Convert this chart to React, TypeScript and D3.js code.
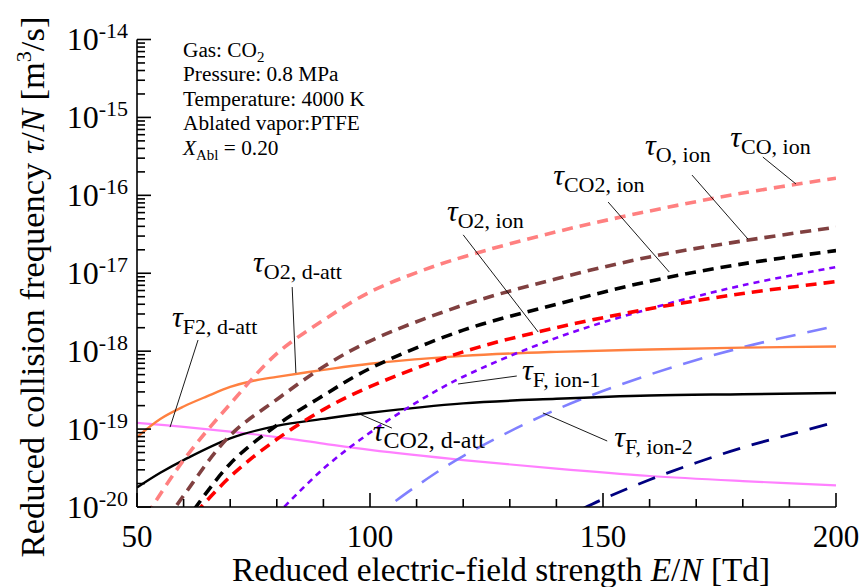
import React from 'react';
import * as d3 from 'd3';

const W = 863, H = 587;
const PLOT = { left: 137, right: 836, top: 39.5, bottom: 507 };
const FONT = "'Liberation Serif', 'Times New Roman', serif";

const xDomain = [50, 200];
const yDomain = [1e-20, 1e-14];
const xTicksMajor = [50, 100, 150, 200];
const xTicksMinor = [60, 70, 80, 90, 110, 120, 130, 140, 160, 170, 180, 190];
const yDecadeExps = [-14, -15, -16, -17, -18, -19, -20];

// τ_O2, d-att (orange solid)
const E_O2_datt = [50, 55, 60, 65, 70, 75, 80, 90, 100, 120, 140, 160, 180, 200];
const V_O2_datt = [7.9e-20, 1.35e-19, 1.95e-19, 2.63e-19, 3.47e-19, 4.17e-19, 4.68e-19, 5.75e-19, 6.9e-19, 8.7e-19, 9.8e-19, 1.05e-18, 1.11e-18, 1.15e-18];
// τ_CO2, d-att (black solid)
const E_CO2_datt = [50, 55, 60, 70, 80, 90, 100, 120, 140, 160, 180, 200];
const V_CO2_datt = [1.78e-20, 2.75e-20, 4.0e-20, 7.6e-20, 1.1e-19, 1.35e-19, 1.62e-19, 2.14e-19, 2.45e-19, 2.7e-19, 2.8e-19, 2.9e-19];
// τ_F2, d-att (pink solid)
const E_F2_datt = [50, 60, 70, 80, 90, 100, 120, 140, 160, 180, 200];
const V_F2_datt = [1.2e-19, 1.07e-19, 9.3e-20, 7.9e-20, 6.5e-20, 5.4e-20, 4.0e-20, 3.1e-20, 2.5e-20, 2.15e-20, 1.9e-20];
// τ_CO, ion (light red dashed)
const E_CO_ion = [50, 60, 70, 80, 90, 100, 110, 120, 140, 160, 180, 200];
const V_CO_ion = [5e-21, 4.0e-20, 2.1e-19, 9.3e-19, 2.5e-18, 5.75e-18, 1.02e-17, 1.62e-17, 3.4e-17, 6.3e-17, 1.07e-16, 1.66e-16];
// τ_O, ion (brown dashed)
const E_O_ion = [50, 60, 70, 80, 90, 100, 120, 140, 160, 180, 200];
const V_O_ion = [1.8e-21, 1.4e-20, 8.3e-20, 2.4e-19, 6.3e-19, 1.35e-18, 3.9e-18, 8.5e-18, 1.62e-17, 2.6e-17, 3.9e-17];
// τ_CO2, ion (black dashed)
const E_CO2_ion = [60, 70, 80, 90, 100, 120, 140, 160, 180, 200];
const V_CO2_ion = [6e-21, 3.6e-20, 1.12e-19, 2.7e-19, 6.0e-19, 1.86e-18, 4.0e-18, 7.9e-18, 1.32e-17, 1.95e-17];
// τ_O2, ion (red dashed)
const E_O2_ion = [60, 70, 80, 90, 100, 120, 140, 160, 180, 200];
const V_O2_ion = [5.6e-21, 2.45e-20, 7.4e-20, 1.78e-19, 3.5e-19, 9.8e-19, 2.0e-18, 3.5e-18, 5.5e-18, 7.8e-18];
// τ_F, ion-1 (purple short dash)
const E_F_ion1 = [80, 90, 100, 110, 120, 140, 160, 180, 200];
const V_F_ion1 = [8e-21, 3.1e-20, 9.0e-20, 2.2e-19, 4.7e-19, 1.48e-18, 3.5e-18, 7.0e-18, 1.2e-17];
// τ_F, ion-2 (light blue long dash)
const E_F_ion2 = [100, 110, 120, 140, 160, 180, 200];
const V_F_ion2 = [6.8e-21, 1.86e-20, 4.5e-20, 1.78e-19, 5.0e-19, 1.12e-18, 2.1e-18];
// navy long dash (unlabelled)
const E_navy = [140, 150, 160, 170, 180, 190, 200];
const V_navy = [6.5e-21, 1.26e-20, 2.24e-20, 3.7e-20, 5.8e-20, 8.5e-20, 1.23e-19];

const series = [
  { E: E_F2_datt, V: V_F2_datt, color: '#ff80ff', width: 2.2, dash: null },
  { E: E_navy, V: V_navy, color: '#000080', width: 2.8, dash: '18,12' },
  { E: E_F_ion2, V: V_F_ion2, color: '#8080ff', width: 2.6, dash: '20,12' },
  { E: E_CO2_datt, V: V_CO2_datt, color: '#000000', width: 2.4, dash: null },
  { E: E_O2_datt, V: V_O2_datt, color: '#ff8040', width: 2.4, dash: null },
  { E: E_F_ion1, V: V_F_ion1, color: '#8000ff', width: 2.6, dash: '6,5' },
  { E: E_O2_ion, V: V_O2_ion, color: '#ff0000', width: 3.6, dash: '11,7' },
  { E: E_CO2_ion, V: V_CO2_ion, color: '#000000', width: 3.6, dash: '11,7' },
  { E: E_O_ion, V: V_O_ion, color: '#804040', width: 3.6, dash: '11,7' },
  { E: E_CO_ion, V: V_CO_ion, color: '#ff8080', width: 3.6, dash: '11,7' },
];

// label anchors in data units: label position, leader from -> to
const labelSubs = ['CO, ion', 'O, ion', 'CO2, ion', 'O2, ion', 'O2, d-att', 'F2, d-att', 'F, ion-1', 'CO2, d-att', 'F, ion-2'];
const labelE = [177.3, 159.0, 139.3, 116.5, 74.9, 57.5, 132.6, 100.6, 152.4];
const labelV = [4.2e-16, 3.3e-16, 1.36e-16, 4.68e-17, 1.04e-17, 2.04e-18, 4.27e-19, 7.0e-20, 5.9e-20];
const leadE1 = [184.3, 169.1, 151.1, 120.0, 83.3, 63.1, 131.5, 97.2, 137.1];
const leadV1 = [3.1e-16, 1.82e-16, 8.2e-17, 3.11e-17, 6.65e-18, 1.39e-18, 4.8e-19, 1.61e-19, 1.61e-19];
const leadE2 = [191.4, 181.1, 164.2, 136.1, 84.1, 57.1, 118.9, 104.7, 150.9];
const leadV2 = [1.4e-16, 2.75e-17, 1.04e-17, 1.76e-18, 5.25e-19, 1.06e-19, 3.79e-19, 1.03e-19, 7.03e-20];
const labelSubSize = [22, 22, 22, 22, 22, 22, 22, 24, 22];

const infoLines = ['Pressure: 0.8 MPa', 'Temperature: 4000 K', 'Ablated vapor:PTFE'];

export default function App() {
  const x = d3.scaleLinear().domain(xDomain).range([PLOT.left, PLOT.right]);
  const y = d3.scaleLog().domain(yDomain).range([PLOT.bottom, PLOT.top]);
  const line = d3.line<[number, number]>()
    .x(d => x(d[0]))
    .y(d => y(d[1]))
    .curve(d3.curveCatmullRom.alpha(0.5));

  const minorY: number[] = [];
  for (let e = -20; e < -14; e++) for (let k = 2; k <= 9; k++) minorY.push(k * Math.pow(10, e));

  return (
    <svg width={W} height={H} style={{ position: 'absolute', left: 0, top: 0, background: '#fff' }}
      fontFamily={FONT}>
      <defs>
        <clipPath id="plotclip">
          <rect x={PLOT.left} y={PLOT.top} width={PLOT.right - PLOT.left} height={PLOT.bottom - PLOT.top} />
        </clipPath>
      </defs>
      <rect x={0} y={0} width={W} height={H} fill="#fff" />

      {/* curves */}
      <g clipPath="url(#plotclip)">
        {series.map((s, i) => (
          <path key={i}
            d={line(s.E.map((e, j) => [e, s.V[j]] as [number, number])) || ''}
            fill="none" stroke={s.color} strokeWidth={s.width}
            strokeDasharray={s.dash || undefined} />
        ))}
      </g>

      {/* axes */}
      <g stroke="#000" strokeWidth={1.6}>
        <line x1={PLOT.left} x2={PLOT.left} y1={PLOT.top} y2={PLOT.bottom} />
        <line x1={PLOT.left} x2={PLOT.right} y1={PLOT.bottom} y2={PLOT.bottom} />
        {xTicksMajor.map(t => (
          <line key={'xm' + t} x1={x(t)} x2={x(t)} y1={PLOT.bottom} y2={PLOT.bottom - 14} />
        ))}
        {xTicksMinor.map(t => (
          <line key={'xn' + t} x1={x(t)} x2={x(t)} y1={PLOT.bottom} y2={PLOT.bottom - 8} />
        ))}
        {yDecadeExps.map(e => (
          <line key={'ym' + e} x1={PLOT.left} x2={PLOT.left + 14} y1={y(Math.pow(10, e))} y2={y(Math.pow(10, e))} />
        ))}
        {minorY.map((v, i) => (
          <line key={'yn' + i} x1={PLOT.left} x2={PLOT.left + 8} y1={y(v)} y2={y(v)} />
        ))}
      </g>

      {/* x tick labels */}
      {xTicksMajor.map(t => (
        <text key={'xl' + t} x={x(t)} y={PLOT.bottom + 40} textAnchor="middle" fontSize={31}>{t}</text>
      ))}
      {/* y tick labels */}
      {yDecadeExps.map(e => (
        <text key={'yl' + e} x={PLOT.left - 9} y={y(Math.pow(10, e)) + 10.5} textAnchor="end" fontSize={32}>
          10<tspan fontSize={22} dy={-12}>{String(e)}</tspan>
        </text>
      ))}

      {/* axis titles */}
      <text x={501} y={581} textAnchor="middle" fontSize={33.3}>
        Reduced electric-field strength <tspan fontStyle="italic">E</tspan>/<tspan fontStyle="italic">N</tspan> [Td]
      </text>
      <text transform={`translate(44,${287}) rotate(-90)`} textAnchor="middle" fontSize={34.5}>
        Reduced collision frequency <tspan fontStyle="italic">τ</tspan>/<tspan fontStyle="italic">N</tspan> [m<tspan fontSize={22} dy={-13}>3</tspan><tspan dy={13}>/s]</tspan>
      </text>

      {/* info block */}
      <g fontSize={21.3}>
        <text x={183} y={57}>Gas: CO<tspan fontSize={15} dy={5}>2</tspan></text>
        {infoLines.map((s, i) => (
          <text key={s} x={183} y={81 + i * 24.5}>{s}</text>
        ))}
        <text x={183} y={155}>
          <tspan fontStyle="italic">X</tspan><tspan fontSize={15} dy={5}>Abl</tspan><tspan dy={-5}> = 0.20</tspan>
        </text>
      </g>

      {/* annotations */}
      <g stroke="#000" strokeWidth={0.9}>
        {labelSubs.map((s, i) => (
          <line key={'ld' + i} x1={x(leadE1[i])} y1={y(leadV1[i])} x2={x(leadE2[i])} y2={y(leadV2[i])} />
        ))}
      </g>
      {labelSubs.map((s, i) => (
        <text key={'lb' + i} x={x(labelE[i])} y={y(labelV[i])} fontSize={30}>
          <tspan fontStyle="italic">τ</tspan><tspan fontSize={labelSubSize[i]} dy={7}>{s}</tspan>
        </text>
      ))}
    </svg>
  );
}
